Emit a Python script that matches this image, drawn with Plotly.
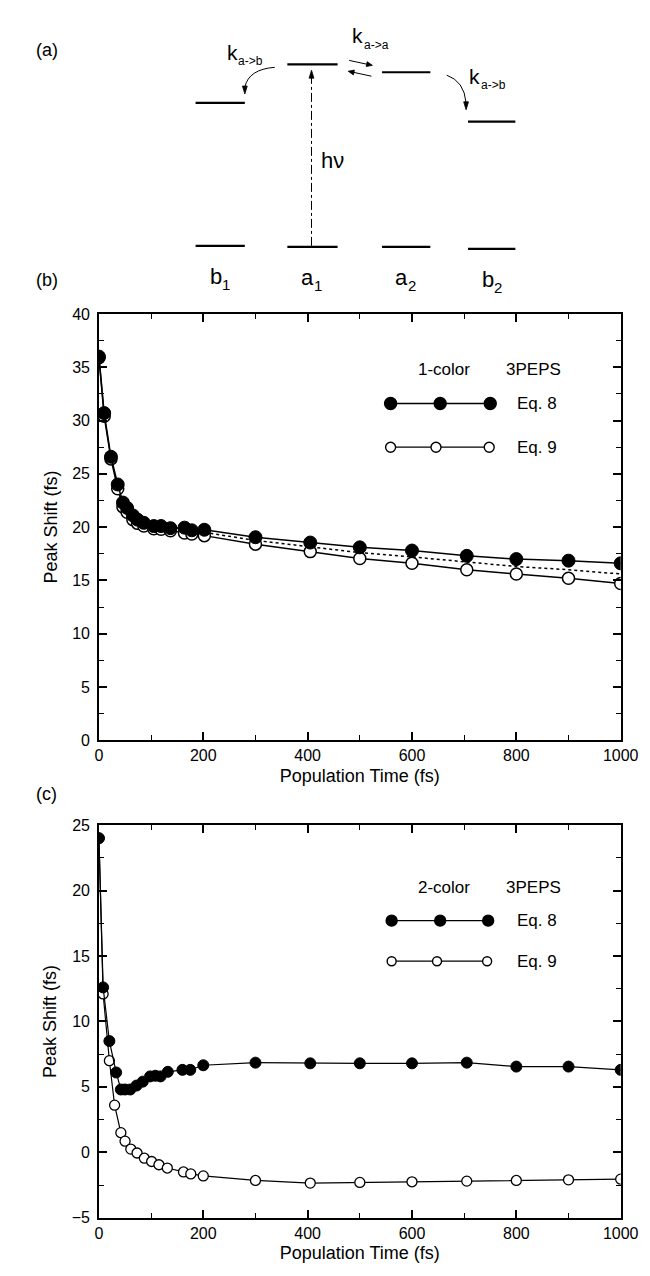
import plotly.graph_objects as go

# ---------------- data ----------------
# panel (b): 1-color 3PEPS
t_b = [0, 10, 23, 36, 46, 54, 65, 74, 86, 105, 119, 137, 164, 178, 202,
       300, 405, 500, 600, 705, 800, 900, 1000]
eq8_b = [36.0, 30.7, 26.6, 24.0, 22.3, 21.8, 21.1, 20.7, 20.4, 20.1, 20.1, 19.9,
         19.95, 19.7, 19.75, 19.05, 18.55, 18.1, 17.8, 17.3, 17.0, 16.85, 16.6]
eq9_b = [35.9, 30.4, 26.4, 23.6, 21.9, 21.4, 20.7, 20.35, 20.1, 19.85, 19.8, 19.65,
         19.45, 19.35, 19.2, 18.4, 17.7, 17.05, 16.6, 16.0, 15.6, 15.2, 14.7]
t_dot_b = [202, 300, 405, 500, 600, 705, 800, 900, 1000]
dot_b = [19.5, 18.75, 18.15, 17.6, 17.2, 16.7, 16.3, 16.0, 15.6]

# panel (c): 2-color 3PEPS
t_c8 = [0, 8, 20, 33, 42, 50, 60, 72, 84, 98, 108, 118, 132, 160, 175, 200,
        300, 405, 500, 600, 705, 800, 900, 1000]
eq8_c = [24.0, 12.6, 8.5, 6.1, 4.8, 4.8, 4.8, 5.1, 5.4, 5.8, 5.85, 5.8, 6.15, 6.3,
         6.3, 6.65, 6.85, 6.8, 6.8, 6.8, 6.85, 6.55, 6.55, 6.3]
t_c9 = [0, 8, 20, 30, 42, 50, 61, 73, 87, 101, 115, 131, 162, 176, 200,
        300, 405, 500, 600, 705, 800, 900, 1000]
eq9_c = [24.0, 12.1, 7.0, 3.6, 1.5, 0.85, 0.25, -0.05, -0.45, -0.7, -0.95, -1.2,
         -1.5, -1.65, -1.8, -2.15, -2.35, -2.3, -2.25, -2.2, -2.15, -2.1, -2.05]

x_ticks = [0, 200, 400, 600, 800, 1000]
y_ticks_b = [0, 5, 10, 15, 20, 25, 30, 35, 40]
y_ticks_c = [-5, 0, 5, 10, 15, 20, 25]

# panel (a) energy-level diagram (diagram pixel coordinates)
level_main = ["b", "a", "a", "b"]
level_sub = ["1", "1", "2", "2"]
level_x0 = [190, 285, 383, 472]
level_x1 = [241, 337, 433, 521]
level_upper = [88, 49, 57, 107]
level_lower = [233, 234, 234, 236]

FONT = "Liberation Sans, Arial, Helvetica, sans-serif"
W, H = 650, 1276

fig = go.Figure()

# ---- panel (b) traces ----
fig.add_trace(go.Scatter(x=t_dot_b, y=dot_b, mode="lines",
                         line=dict(color="black", width=1.5, dash="dot"),
                         xaxis="x", yaxis="y", showlegend=False))
fig.add_trace(go.Scatter(x=t_b, y=eq9_b, mode="lines+markers",
                         line=dict(color="black", width=1.5),
                         marker=dict(symbol="circle", size=12, color="white",
                                     line=dict(color="black", width=1.5)),
                         xaxis="x", yaxis="y", showlegend=False))
fig.add_trace(go.Scatter(x=t_b, y=eq8_b, mode="lines+markers",
                         line=dict(color="black", width=1.5),
                         marker=dict(symbol="circle", size=13, color="black",
                                     line=dict(color="black", width=1)),
                         xaxis="x", yaxis="y", showlegend=False))

# ---- panel (c) traces ----
fig.add_trace(go.Scatter(x=t_c9, y=eq9_c, mode="lines+markers",
                         line=dict(color="black", width=1.2),
                         marker=dict(symbol="circle", size=10, color="white",
                                     line=dict(color="black", width=1.3)),
                         xaxis="x2", yaxis="y2", showlegend=False))
fig.add_trace(go.Scatter(x=t_c8, y=eq8_c, mode="lines+markers",
                         line=dict(color="black", width=1.2),
                         marker=dict(symbol="circle", size=11, color="black",
                                     line=dict(color="black", width=1)),
                         xaxis="x2", yaxis="y2", showlegend=False))

# ---- axes ----
def xax(anchor):
    return dict(domain=[90 / W, 630 / W], range=[0, 1000], anchor=anchor,
                showline=True, linecolor="black", linewidth=1.5, mirror="ticks",
                ticks="inside", ticklen=8, tickwidth=1.5, tickcolor="black",
                tickvals=x_ticks, showgrid=False, zeroline=False,
                minor=dict(dtick=100, ticks="inside", ticklen=5, tickwidth=1.2,
                           tickcolor="black", showgrid=False),
                tickfont=dict(family=FONT, size=16, color="black"),
                title=dict(text="Population Time (fs)", standoff=6,
                           font=dict(family=FONT, size=18, color="black")))


def yax(rng, ticks, dom, anchor):
    return dict(domain=dom, range=rng, anchor=anchor,
                showline=True, linecolor="black", linewidth=1.5, mirror="ticks",
                ticks="inside", ticklen=8, tickwidth=1.5, tickcolor="black",
                tickvals=ticks, showgrid=False, zeroline=False,
                minor=dict(dtick=2.5, ticks="inside", ticklen=5, tickwidth=1.2,
                           tickcolor="black", showgrid=False),
                ticklabelstandoff=4,
                tickfont=dict(family=FONT, size=16, color="black"),
                title=dict(text="Peak Shift (fs)", standoff=10,
                           font=dict(family=FONT, size=18, color="black")))


yb_dom = [1 - 734 / H, 1 - 302 / H]
yc_dom = [1 - 1218 / H, 1 - 820 / H]

fig.update_layout(
    width=W, height=H, margin=dict(l=0, r=0, t=0, b=0),
    paper_bgcolor="white", plot_bgcolor="white",
    font=dict(family=FONT, color="black"),
    xaxis=xax("y"), yaxis=yax([0, 40], y_ticks_b, yb_dom, "x"),
    xaxis2=xax("y2"), yaxis2=yax([-5, 25], y_ticks_c, yc_dom, "x2"),
    xaxis3=dict(domain=[0, 1], range=[0, W], anchor="y3", visible=False),
    yaxis3=dict(domain=[1 - 280 / H, 1], range=[280, 0], anchor="x3", visible=False),
)
# invisible trace so that the diagram axis exists
fig.add_trace(go.Scatter(x=[0], y=[0], mode="markers", marker=dict(opacity=0),
                         xaxis="x3", yaxis="y3", showlegend=False, hoverinfo="skip"))

shapes = []
ann = []


def txt(x, y, s, size, xanchor="center", xref="x3", yref="y3"):
    return dict(xref=xref, yref=yref, x=x, y=y, text=s, showarrow=False,
                xanchor=xanchor, yanchor="middle", borderpad=0,
                font=dict(family=FONT, size=size, color="black"))


def line(x0, y0, x1, y1, w=1.0, dash="solid"):
    return dict(type="line", xref="x3", yref="y3", x0=x0, y0=y0, x1=x1, y1=y1,
                line=dict(color="black", width=w, dash=dash))


def head(path):
    return dict(type="path", xref="x3", yref="y3", path=path, fillcolor="black",
                line=dict(color="black", width=0.8))


# ---- panel (a) diagram ----
for m, s, x0, x1, yu, yl in zip(level_main, level_sub, level_x0, level_x1,
                                level_upper, level_lower):
    shapes.append(line(x0, yu, x1, yu, 2.2))
    shapes.append(line(x0, yl, x1, yl, 2.2))
    xc = (x0 + x1) / 2
    ann.append(txt(xc + 3, yl + 31, m, 22, "right"))
    ann.append(txt(xc + 1, yl + 39, s, 15, "left"))

# excitation h nu (dash-dot) with arrow head
shapes.append(line(310, 233, 310, 60, 1, "dashdot"))
shapes.append(head("M 307.5 63 L 312.5 63 L 310 55 Z"))
ann.append(txt(332, 146, "hν", 22))

# curved arrow a1 -> b1
shapes.append(dict(type="path", xref="x3", yref="y3",
                   path="M 272 52 Q 245 54 241 72",
                   line=dict(color="black", width=1)))
shapes.append(head("M 238.5 71 L 243.5 71 L 241 79 Z"))
# curved arrow a2 -> b2
shapes.append(dict(type="path", xref="x3", yref="y3",
                   path="M 450 60 Q 468 66 470 88",
                   line=dict(color="black", width=1)))
shapes.append(head("M 467.5 87 L 472.5 87 L 470 95 Z"))
# double arrows a1 <-> a2
shapes.append(line(349, 45, 368, 49, 1))
shapes.append(head("M 373 50 L 366.6 51.2 L 367.6 46.3 Z"))
shapes.append(line(372, 61, 353, 57, 1))
shapes.append(head("M 348 56 L 354.4 54.8 L 353.4 59.7 Z"))

# rate labels
for kx, ky in [(228, 37), (358, 20), (479, 61)]:
    ann.append(txt(kx, ky, "k", 21, "center"))
ann.append(txt(233, 46, "a-&gt;b", 12, "left"))
ann.append(txt(363, 29, "a-&gt;a", 12, "left"))
ann.append(txt(484, 70, "a-&gt;b", 12, "left"))

# panel labels
for lab, py in [("(a)", 34), ("(b)", 268), ("(c)", 788)]:
    ann.append(txt(36 / W, 1 - py / H, lab, 18, "center", "paper", "paper"))


# ---- custom legends ----
def legend(xr, yr, head_txt, y_head, y8, y9, m8, m9, s8, s9):
    out_s, out_a = [], []
    out_a.append(txt(661, y_head, head_txt, 17, "center", xr, yr))
    out_a.append(txt(832, y_head, "3PEPS", 17, "center", xr, yr))
    out_a.append(txt(800, y8, "Eq. 8", 17, "left", xr, yr))
    out_a.append(txt(800, y9, "Eq. 9", 17, "left", xr, yr))
    for yy, ms, fill, sz in [(y8, m8, "black", s8), (y9, m9, "white", s9)]:
        out_s.append(dict(type="line", xref=xr, yref=yr, x0=ms[0], x1=ms[-1], y0=yy, y1=yy,
                          line=dict(color="black", width=1.3)))
        for mx in ms:
            r = sz / 2
            out_s.append(dict(type="circle", xref=xr, yref=yr, xsizemode="pixel",
                              ysizemode="pixel", xanchor=mx, yanchor=yy,
                              x0=-r, x1=r, y0=-r, y1=r, fillcolor=fill,
                              line=dict(color="black", width=1.4)))
    return out_s, out_a


s1, a1 = legend("x", "y", "1-color", 34.8, 31.6, 27.5,
                [559, 654, 750], [559, 646, 748], 12, 10)
s2, a2 = legend("x2", "y2", "2-color", 20.25, 17.7, 14.6,
                [561, 654, 746], [561, 648, 744], 11, 9)
shapes += s1 + s2
ann += a1 + a2

fig.update_layout(shapes=shapes, annotations=ann)
fig.write_html("out.html")
